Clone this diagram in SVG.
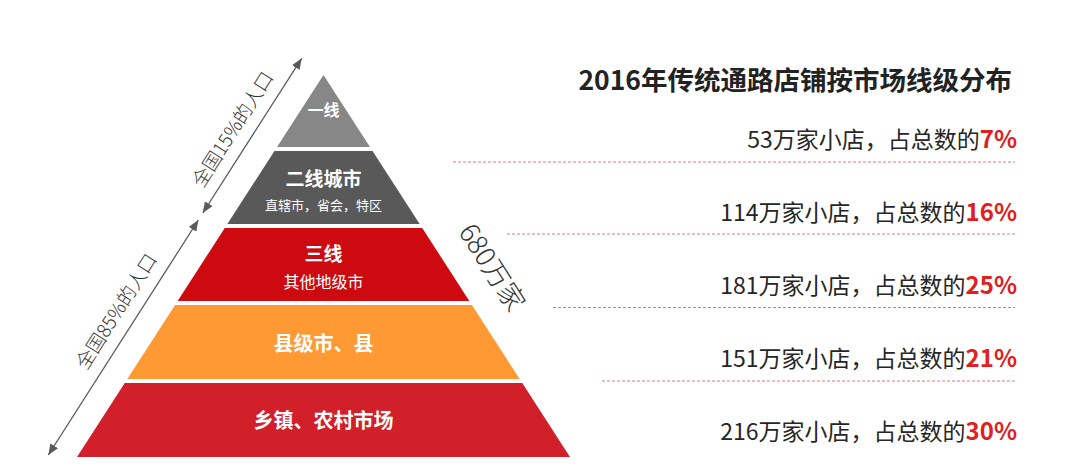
<svg xmlns="http://www.w3.org/2000/svg" width="1080" height="474" viewBox="0 0 1080 474">
  <defs>
    <marker id="ah" viewBox="0 0 11 9" refX="11" refY="4.5" markerWidth="11" markerHeight="9" markerUnits="userSpaceOnUse" orient="auto-start-reverse">
      <path d="M0,0 L11,4.5 L0,9 z" fill="#5a5a5a"/>
    </marker>
    <style>
      text { font-family: "Noto Sans CJK SC", "Noto Sans", sans-serif; }
      .tier-label { fill: #ffffff; font-weight: bold; text-anchor: middle; }
      .tier-sub { fill: #ffffff; text-anchor: middle; }
      .side { fill: #333333; font-size: 19px; text-anchor: middle; font-weight: 300; }
      .row { fill: #262626; font-size: 23px; text-anchor: end; }
      .pct { fill: #e02020; font-weight: bold; font-size: 24px; }
      .dash { stroke: #e07585; stroke-width: 1; stroke-dasharray: 3 2; fill: none; }
      .arrow { stroke: #5a5a5a; stroke-width: 1.3; fill: none; }
    </style>
  </defs>
  <rect width="1080" height="474" fill="#ffffff"/>

  <g id="tier1">
    <polygon points="323.5,75 369.96,147 277.04,147" fill="#878787"/>
    <text class="tier-label" x="323.5" y="116" font-size="16">一线</text>
  </g>
  <g id="tier2">
    <polygon points="274.46,151 372.54,151 419.65,224 227.35,224" fill="#595959"/>
    <text class="tier-label" x="323.5" y="186" font-size="19">二线城市</text>
    <text class="tier-sub" x="323.5" y="210" font-size="13">直辖市，省会，特区</text>
  </g>
  <g id="tier3">
    <polygon points="224.77,228 422.23,228 469.34,301 177.66,301" fill="#cc0a0f"/>
    <text class="tier-label" x="323.5" y="261" font-size="19">三线</text>
    <text class="tier-sub" x="323.5" y="288" font-size="16">其他地级市</text>
  </g>
  <g id="tier4">
    <polygon points="175.08,305 471.92,305 519.67,379 127.33,379" fill="#ff9933"/>
    <text class="tier-label" x="323.5" y="351" font-size="20">县级市、县</text>
  </g>
  <g id="tier5">
    <polygon points="124.75,383 522.25,383 570,457 77,457" fill="#d2202a"/>
    <text class="tier-label" x="323.5" y="428" font-size="20">乡镇、农村市场</text>
  </g>

  <g id="connectors">
    <line class="arrow" x1="202.8" y1="213" x2="301.7" y2="58.3" marker-start="url(#ah)" marker-end="url(#ah)"/>
    <line class="arrow" x1="48.3" y1="455" x2="198.4" y2="220" marker-start="url(#ah)" marker-end="url(#ah)"/>
  </g>

  <g id="side-labels">
    <text class="side" transform="translate(238.5,133) rotate(-57.4)">全国15%的人口</text>
    <text class="side" transform="translate(122.2,315.1) rotate(-57.4)">全国85%的人口</text>
    <text id="total" transform="translate(484,272.6) rotate(57.2)" font-size="27" fill="#333333" text-anchor="middle" font-weight="300">680万家</text>
  </g>

  <g id="title">
    <text x="1012" y="90" font-size="26.5" font-weight="bold" fill="#222222" text-anchor="end">2016年传统通路店铺按市场线级分布</text>
  </g>

  <g id="rows">
    <g id="row1">
      <text class="row" x="1017" y="148">53万家小店，占总数的<tspan class="pct">7%</tspan></text>
      <line class="dash" x1="453" y1="162" x2="1015" y2="162"/>
    </g>
    <g id="row2">
      <text class="row" x="1017" y="221">114万家小店，占总数的<tspan class="pct">16%</tspan></text>
      <line class="dash" x1="507" y1="234" x2="1015" y2="234"/>
    </g>
    <g id="row3">
      <text class="row" x="1017" y="294">181万家小店，占总数的<tspan class="pct">25%</tspan></text>
      <line class="dash" x1="553" y1="307.5" x2="1015" y2="307.5"/>
    </g>
    <g id="row4">
      <text class="row" x="1017" y="367">151万家小店，占总数的<tspan class="pct">21%</tspan></text>
      <line class="dash" x1="602" y1="381" x2="1015" y2="381"/>
    </g>
    <g id="row5">
      <text class="row" x="1017" y="440">216万家小店，占总数的<tspan class="pct">30%</tspan></text>
    </g>
  </g>
</svg>
